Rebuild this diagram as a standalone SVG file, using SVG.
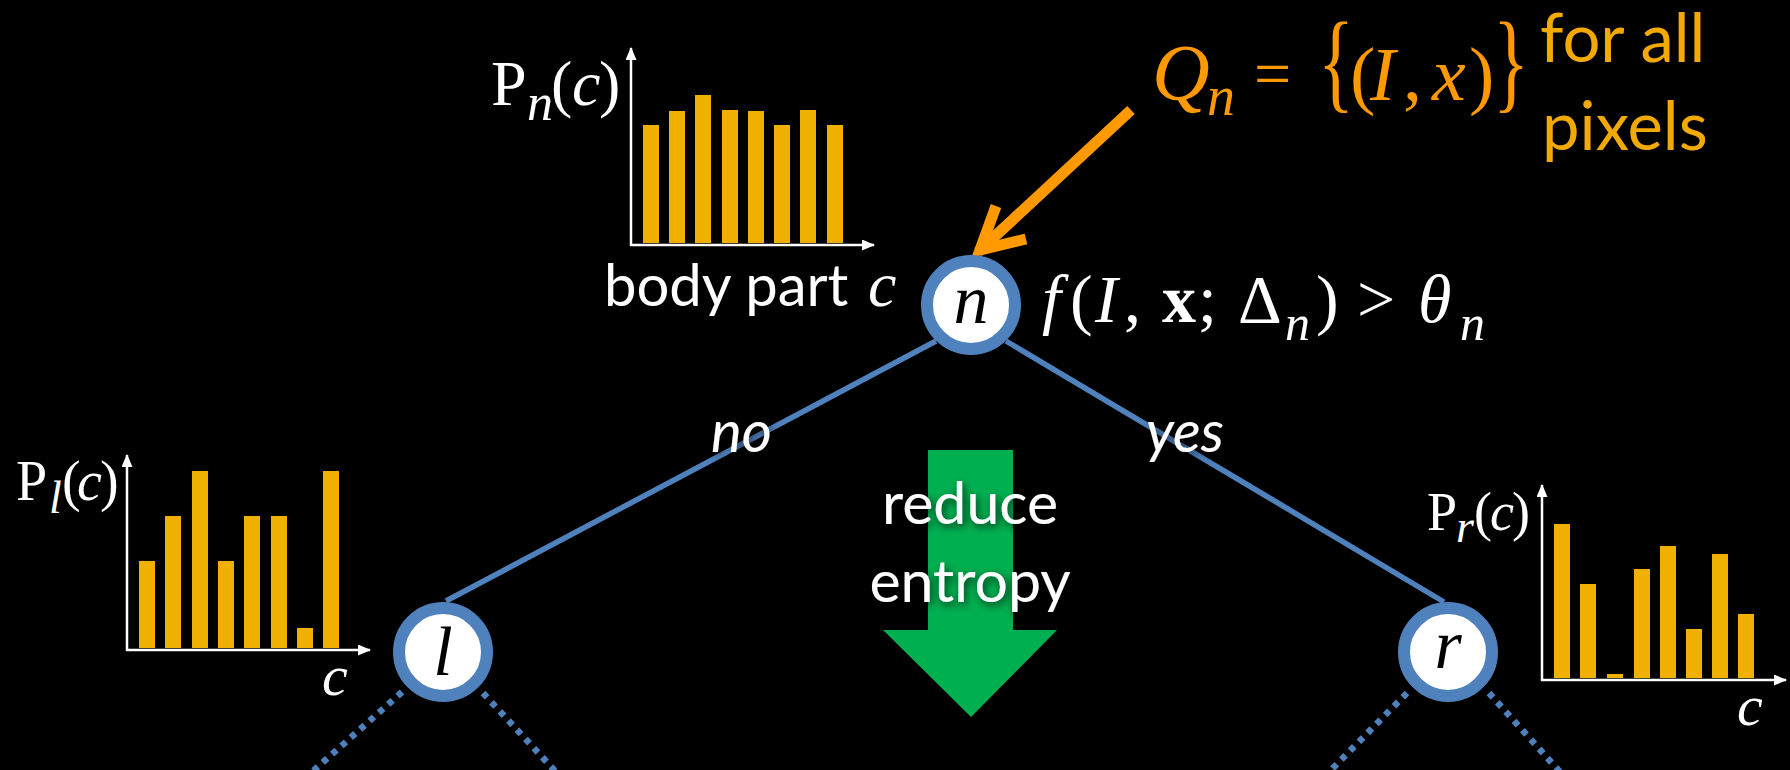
<svg xmlns="http://www.w3.org/2000/svg" width="1790" height="770" viewBox="0 0 1790 770">
<style>
.sans{font-family:Lato,"Open Sans","Liberation Sans",sans-serif;fill:#fff}
.serif{font-family:"Liberation Serif","DejaVu Serif",serif;fill:#fff}
.it{font-style:italic}
.bold{font-weight:bold}
.bar{fill:#F0B000}
.axis{stroke:#fff;stroke-width:2.5;fill:none;marker-end:url(#ax)}
.ring{fill:#fff;stroke:#4F81BD;stroke-width:12}
.nodelbl{font-family:"Liberation Serif","DejaVu Serif",serif;font-style:italic;fill:#000;font-size:70px;text-anchor:middle}
.edge{stroke:#4F81BD;stroke-width:5.5;fill:none}
.dot{stroke:#4F81BD;stroke-width:6.5;fill:none;stroke-dasharray:6 6.5}
.orange{fill:#FF9900}
.gold{fill:#F2A900}
</style>
<defs>
<marker id="ax" markerUnits="userSpaceOnUse" markerWidth="13" markerHeight="11" refX="12" refY="5.5" orient="auto">
<path d="M0,0 L13,5.5 L0,11 Z" fill="#fff"/>
</marker>
<filter id="sh" x="-20%" y="-20%" width="140%" height="140%">
<feDropShadow dx="2" dy="3" stdDeviation="4" flood-color="#000" flood-opacity="0.75"/>
</filter>
</defs>
<rect width="1790" height="770" fill="#000"/>

<!-- reduce entropy arrow -->
<g id="entropy-arrow">
<polygon points="928,450 1013,450 1013,630 1057,630 971,717 883,630 928,630" fill="#00B050"/>
<g filter="url(#sh)" class="sans" font-size="59" text-anchor="middle">
<text x="970" y="524">reduce</text>
<text x="970" y="602">entropy</text>
</g>
</g>

<!-- connectors -->
<g id="connectors">
<line class="edge" x1="936" y1="341" x2="446" y2="601"/>
<line class="edge" x1="1006" y1="341" x2="1444" y2="602"/>
<line class="dot" x1="402" y1="692" x2="312" y2="772"/>
<line class="dot" x1="483" y1="693" x2="556" y2="772"/>
<line class="dot" x1="1407" y1="693" x2="1329" y2="772"/>
<line class="dot" x1="1489" y1="693" x2="1560" y2="772"/>
<g filter="url(#sh)" class="sans it" font-size="58">
<text x="711" y="452">no</text>
<text x="1146" y="452">yes</text>
</g>
<g id="query-arrow" stroke="#FF9900" stroke-width="11" fill="none">
<line x1="1131" y1="110" x2="978" y2="252"/>
<path d="M996,206 L980,250 L1026,239" stroke-linejoin="miter" stroke-miterlimit="10"/>
</g>
</g>

<!-- root node -->
<g id="node-n">
<circle class="ring" cx="971" cy="305" r="44"/>
<text class="nodelbl" x="971" y="323">n</text>
</g>
<g id="node-l">
<circle class="ring" cx="443" cy="652" r="44"/>
<text class="nodelbl" x="443" y="675">l</text>
</g>
<g id="node-r">
<circle class="ring" cx="1448" cy="652" r="44"/>
<text class="nodelbl" x="1448" y="668">r</text>
</g>

<!-- split function -->
<g id="split-function" class="serif" font-size="68">
<text x="1042" y="322" class="serif it">f</text>
<text x="1070" y="322">(</text>
<text x="1095" y="322" class="serif it">I</text>
<text x="1124" y="322">,</text>
<text x="1162" y="322" class="serif bold">x</text>
<text x="1198" y="322">;</text>
<text x="1238" y="322">Δ</text>
<text x="1285" y="340" class="serif it" font-size="50">n</text>
<text x="1316" y="322">)</text>
<text x="1357" y="322">&gt;</text>
<text x="1418" y="322" class="serif it">θ</text>
<text x="1460" y="340" class="serif it" font-size="50">n</text>
</g>

<!-- Q_n set -->
<g id="query-set">
<text x="1152" y="100" class="serif it orange" font-size="80">Q</text>
<text x="1207" y="115" class="serif it orange" font-size="56">n</text>
<text x="1254" y="96" class="serif orange" font-size="66">=</text>
<text transform="translate(1318,98) scale(1,1.47)" class="serif orange" font-size="75">{</text>
<text x="1350" y="100" class="serif orange" font-size="76">(</text>
<text x="1370" y="100" class="serif it orange" font-size="76">I</text>
<text x="1403" y="100" class="serif orange" font-size="76">,</text>
<text x="1432" y="100" class="serif it orange" font-size="76">x</text>
<text x="1469" y="100" class="serif orange" font-size="76">)</text>
<text transform="translate(1493,98) scale(1,1.47)" class="serif orange" font-size="75">}</text>
<text x="1540" y="62" class="sans gold" font-size="67">for all</text>
<text x="1542" y="150" class="sans gold" font-size="67">pixels</text>
</g>

<!-- histogram at n -->
<g id="chart-n">
<rect class="bar" x="643" y="125" width="16" height="118"/>
<rect class="bar" x="669" y="111" width="16" height="132"/>
<rect class="bar" x="695" y="95" width="16" height="148"/>
<rect class="bar" x="722" y="110" width="16" height="133"/>
<rect class="bar" x="748" y="111" width="16" height="132"/>
<rect class="bar" x="774" y="125" width="16" height="118"/>
<rect class="bar" x="800" y="110" width="16" height="133"/>
<rect class="bar" x="827" y="125" width="16" height="118"/>
<line class="axis" x1="631" y1="246" x2="631" y2="48"/>
<line class="axis" x1="630" y1="245" x2="874" y2="245"/>
<text x="491" y="105" class="serif" font-size="64">P</text>
<text x="527" y="120" class="serif it" font-size="52">n</text>
<text x="551" y="105" class="serif" font-size="64">(</text>
<text x="572" y="105" class="serif it" font-size="64">c</text>
<text x="599" y="105" class="serif" font-size="64">)</text>
<text x="604" y="306" class="sans" font-size="58">body part</text>
<text x="868" y="306" class="serif it" font-size="64">c</text>
</g>

<!-- histogram at l -->
<g id="chart-l">
<rect class="bar" x="139" y="561" width="16" height="87"/>
<rect class="bar" x="165" y="516" width="16" height="132"/>
<rect class="bar" x="192" y="471" width="16" height="177"/>
<rect class="bar" x="218" y="561" width="16" height="87"/>
<rect class="bar" x="244" y="516" width="16" height="132"/>
<rect class="bar" x="271" y="516" width="16" height="132"/>
<rect class="bar" x="297" y="628" width="16" height="20"/>
<rect class="bar" x="323" y="471" width="16" height="177"/>
<line class="axis" x1="127" y1="651" x2="127" y2="455"/>
<line class="axis" x1="126" y1="650" x2="370" y2="650"/>
<text x="16" y="500" class="serif" font-size="56">P</text>
<text x="49" y="513" class="serif it" font-size="46">l</text>
<text x="62" y="500" class="serif" font-size="56">(</text>
<text x="77" y="500" class="serif it" font-size="56">c</text>
<text x="100" y="500" class="serif" font-size="56">)</text>
<text x="322" y="695" class="serif it" font-size="58">c</text>
</g>

<!-- histogram at r -->
<g id="chart-r">
<rect class="bar" x="1554" y="524" width="16" height="154"/>
<rect class="bar" x="1580" y="584" width="16" height="94"/>
<rect class="bar" x="1607" y="674" width="16" height="4"/>
<rect class="bar" x="1634" y="569" width="16" height="109"/>
<rect class="bar" x="1660" y="546" width="16" height="132"/>
<rect class="bar" x="1686" y="629" width="16" height="49"/>
<rect class="bar" x="1712" y="554" width="16" height="124"/>
<rect class="bar" x="1738" y="614" width="16" height="64"/>
<line class="axis" x1="1542" y1="681" x2="1542" y2="485"/>
<line class="axis" x1="1541" y1="680" x2="1786" y2="680"/>
<text x="1427" y="530" class="serif" font-size="54">P</text>
<text x="1456" y="542" class="serif it" font-size="46">r</text>
<text x="1474" y="530" class="serif" font-size="54">(</text>
<text x="1490" y="530" class="serif it" font-size="54">c</text>
<text x="1512" y="530" class="serif" font-size="54">)</text>
<text x="1737" y="725" class="serif it" font-size="58">c</text>
</g>
</svg>
